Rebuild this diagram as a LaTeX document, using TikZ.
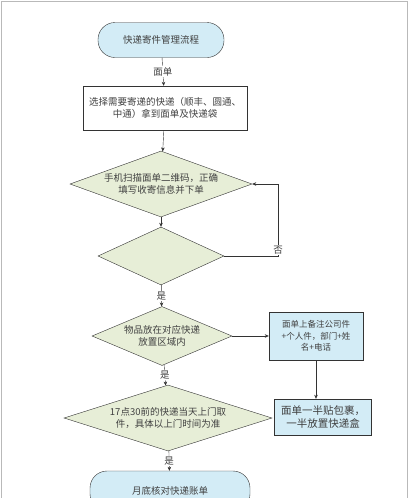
\documentclass[tikz,border=0pt]{standalone}
\usepackage{fontspec}
\setmainfont{Noto Sans CJK SC}
\usetikzlibrary{shapes.geometric,arrows.meta}
\definecolor{termblue}{HTML}{D3ECF6}
\definecolor{decgreen}{HTML}{E7EED7}
\definecolor{linegray}{HTML}{333333}

\begin{document}
\begin{tikzpicture}[x=1pt,y=-1pt,font=\fontsize{9.5}{12.5}\selectfont]
    \tikzstyle{every node}=[align=center, text=black!75];
    \tikzstyle{term}=[draw=linegray, fill=termblue, rounded corners=17pt, inner sep=0pt];
    \tikzstyle{box}=[draw=linegray, fill=white, inner sep=0pt];
    \tikzstyle{bluebox}=[draw=linegray, fill=termblue, inner sep=0pt];
    \tikzstyle{check}=[draw=linegray, fill=decgreen, shape=diamond, inner sep=0pt];
    \tikzstyle{flow}=[draw=linegray, -{Stealth[length=4pt,width=3.5pt]}];
    \tikzstyle{tag}=[fill=white, inner sep=1pt];
    \useasboundingbox (0,0) rectangle (410,498);
    \draw[gray!55, line width=1pt] (1.5,498) -- (1.5,1.5) -- (407,1.5) -- (407,498);
    \node[term, minimum width=126pt, minimum height=35pt] (S) at (161,40) {快递寄件管理流程};
    \node[box, minimum width=164pt, minimum height=44pt] (P) at (165,108) {选择需要寄递的快递（顺丰、圆通、\\中通）拿到面单及快递袋};
    \node[check, aspect=2.75, minimum width=182pt, minimum height=66pt] (Q) at (161,184) {手机扫描面单二维码，正确\\填写收寄信息并下单};
    \node[check, aspect=2.2, minimum width=126pt, minimum height=58pt] (C) at (161,256) {};
    \node[check, aspect=2.4, minimum width=140pt, minimum height=59pt] (W) at (162,336) {物品放在对应快递\\放置区域内};
    \node[bluebox, minimum width=94pt, minimum height=48pt, font=\fontsize{8.5}{11.5}\selectfont] (N) at (316,336) {面单上备注公司件\\+个人件，部门+姓\\名+电话};
    \node[bluebox, minimum width=97pt, minimum height=36pt, font=\fontsize{10.5}{13}\selectfont] (H) at (323,417) {面单一半贴包裹，\\一半放置快递盒};
    \node[check, aspect=3.1, minimum width=208pt, minimum height=66pt] (T) at (168,418) {17点30前的快递当天上门取\\件，具体以上门时间为准};
    \node[term, minimum width=160pt, minimum height=40pt, text depth=0pt] (E) at (170,491) {\raisebox{1pt}{月底核对快递账单}};
    \coordinate (back) at (278,256);
    \draw[flow] (S) -- (P) node [midway, tag] {面单};
    \draw[flow] (P) -- (Q);
    \draw[flow] (Q) -- (C);
    \draw[flow] (C.east) -- (back) -- (back |- Q.east) -- (Q.east);
    \node[tag] at (278,250) {否};
    \draw[flow] (C) -- (W) node [midway, tag] {是};
    \draw[flow] (W) -- (N);
    \draw[flow] (N.south) -- (N.south |- H.north);
    \draw[flow] (W) -- (T) node [midway, tag] {是};
    \draw[flow] (T) -- (E) node [midway, tag] {是};
\end{tikzpicture}
\end{document}
